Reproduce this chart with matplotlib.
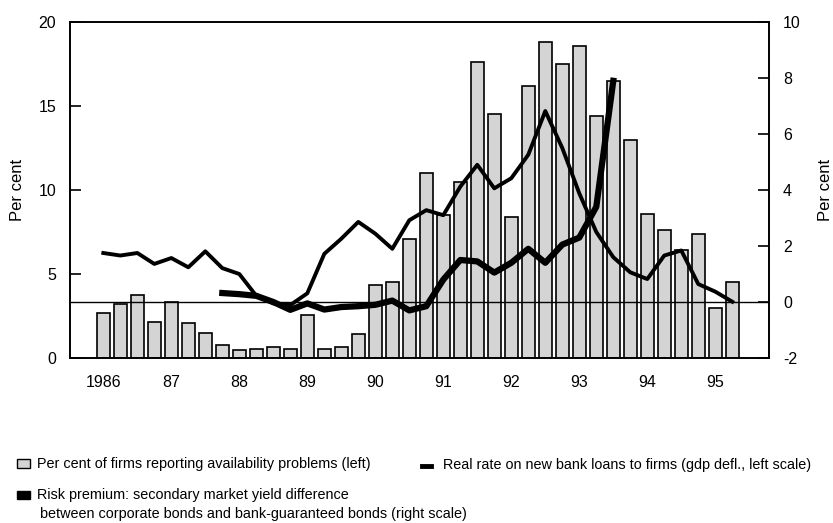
#!/usr/bin/env python3

import numpy as np
import matplotlib.pyplot as plt
from matplotlib.patches import Rectangle
from matplotlib.lines import Line2D

plt.rcParams['font.family'] = ['Liberation Sans', 'DejaVu Sans']
plt.rcParams['axes.unicode_minus'] = False

# quarterly data, 1986Q1 .. 1995Q2
start_year = 1986
n_quarters = 38

# per cent of firms reporting availability problems (left scale)
firms_problems = [2.7, 3.2, 3.75, 2.15, 3.35, 2.1, 1.5, 0.8,
                  0.45, 0.55, 0.65, 0.55, 2.55, 0.55, 0.65, 1.4,
                  4.35, 4.55, 7.1, 11.0, 8.5, 10.5, 17.6, 14.5,
                  8.4, 16.2, 18.8, 17.5, 18.55, 14.4, 16.5, 13.0,
                  8.55, 7.6, 6.4, 7.4, 3.0, 4.5]

# real rate on new bank loans (left scale)
real_rate = [6.25, 6.1, 6.25, 5.6, 5.95, 5.4, 6.35, 5.35,
             5.0, 3.7, 3.25, 3.15, 3.85, 6.2, 7.1, 8.1,
             7.4, 6.5, 8.2, 8.8, 8.5, 10.2, 11.5, 10.1,
             10.7, 12.1, 14.7, 12.5, 9.8, 7.5, 6.0, 5.1,
             4.7, 6.1, 6.4, 4.4, 3.95, 3.35]

# risk premium (right scale), 1987Q4 .. 1993Q3
risk_start = 7
risk_premium = [0.32, 0.28, 0.22, 0.0, -0.28, -0.05, -0.27, -0.18,
                -0.15, -0.1, 0.05, -0.3, -0.15, 0.8, 1.5, 1.45,
                1.05, 1.4, 1.9, 1.4, 2.05, 2.3, 3.4, 7.9]

year_ticks = list(range(1986, 1996))
year_labels = ['1986'] + [str(y)[2:] for y in year_ticks[1:]]

W, H = 833, 523


def fx(px):
    return px / W


def fy(py):
    return 1 - py / H


quarters = start_year + np.arange(n_quarters) / 4
risk_x = quarters[risk_start:risk_start + len(risk_premium)]

fig = plt.figure(figsize=(W / 100, H / 100), dpi=100)
ax = fig.add_axes([fx(70), fy(358), fx(769) - fx(70), fy(22) - fy(358)])
ax2 = ax.twinx()

bar_color = '#d4d4d4'
ax.bar(quarters, firms_problems, width=0.19, color=bar_color,
       edgecolor='black', linewidth=1.2, zorder=2)
ax.plot(quarters, real_rate, color='black', linewidth=2.8,
        solid_joinstyle='round', zorder=3)

ax2.axhline(0, color='black', linewidth=1.0, zorder=1)
ax2.plot(risk_x, risk_premium, color='black', linewidth=4.5,
         solid_joinstyle='round', zorder=3)

ax.set_xlim(1985.51, 1995.79)
ax.set_ylim(0, 20)
ax2.set_ylim(-2, 10)

ax.set_xticks(year_ticks)
ax.set_xticklabels(year_labels)
ax.set_yticks([0, 5, 10, 15, 20])
ax2.set_yticks([-2, 0, 2, 4, 6, 8, 10])

ax.tick_params(axis='x', length=0, pad=12, labelsize=11.5)
ax.tick_params(axis='y', direction='in', length=8, width=1.2, pad=10, labelsize=11.5)
ax2.tick_params(axis='y', direction='in', length=8, width=1.2, pad=10, labelsize=11.5)

for a in (ax, ax2):
    for s in a.spines.values():
        s.set_linewidth(1.2)

fig.text(fx(17), fy(190), 'Per cent', rotation=90, ha='center', va='center', fontsize=12)
fig.text(fx(825), fy(190), 'Per cent', rotation=90, ha='center', va='center', fontsize=12)

# legend drawn by hand below the chart
legend_size = 10.4
fig.patches.append(Rectangle((fx(17), fy(468)), fx(13), fy(459) - fy(468),
                             transform=fig.transFigure, facecolor=bar_color,
                             edgecolor='black', linewidth=1.0))
fig.text(fx(37), fy(464), 'Per cent of firms reporting availability problems (left)',
         ha='left', va='center', fontsize=legend_size)

fig.lines.append(Line2D([fx(422), fx(431)], [fy(466), fy(466)], transform=fig.transFigure,
                        color='black', linewidth=3.5))
fig.text(fx(443), fy(465), 'Real rate on new bank loans to firms (gdp defl., left scale)',
         ha='left', va='center', fontsize=legend_size)

fig.patches.append(Rectangle((fx(17), fy(499)), fx(13), fy(491) - fy(499),
                             transform=fig.transFigure, facecolor='black',
                             edgecolor='black', linewidth=1.0))
fig.text(fx(37), fy(495), 'Risk premium: secondary market yield difference',
         ha='left', va='center', fontsize=legend_size)
fig.text(fx(40), fy(514), 'between corporate bonds and bank-guaranteed bonds (right scale)',
         ha='left', va='center', fontsize=legend_size)

fig.savefig('out.png', dpi=100)
